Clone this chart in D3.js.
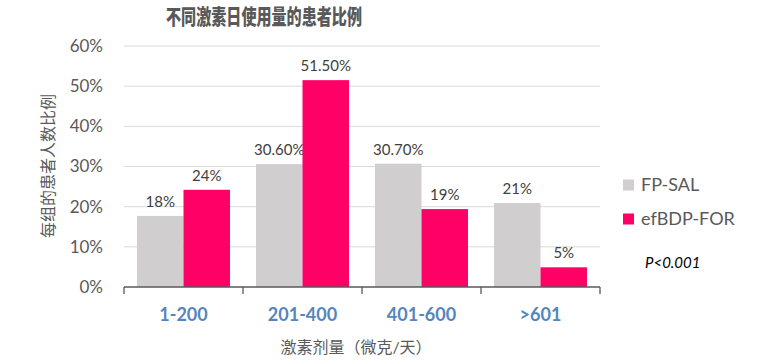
<!DOCTYPE html>
<html>
<head>
<meta charset="utf-8">
<script src="https://cdn.jsdelivr.net/npm/d3@7"></script>
<style>
  body { margin: 0; background: #fff; }
  text { font-family: Lato, "Noto Sans CJK SC", sans-serif; }
</style>
</head>
<body>
<svg id="chart"></svg>
<script>
const width = 761;
const height = 362;

// datos
const categories = ["1-200", "201-400", "401-600", ">601"];
const seriesNames = ["FP-SAL", "efBDP-FOR"];
const fpSal = [17.7, 30.6, 30.7, 20.9];
const efBdpFor = [24.2, 51.5, 19.4, 4.9];
const fpSalLabels = ["18%", "30.60%", "30.70%", "21%"];
const efBdpForLabels = ["24%", "51.50%", "19%", "5%"];
const yTicks = [0, 10, 20, 30, 40, 50, 60];
const colors = ["#d0cece", "#ff0066"];

const svg = d3.select("#chart")
    .attr("width", width)
    .attr("height", height);

const plotLeft = 124, plotRight = 600, plotTop = 46, plotBottom = 287;

const x = d3.scaleBand().domain(categories).range([plotLeft, plotRight]).paddingInner(0).paddingOuter(0);
const xs = d3.scaleBand().domain(seriesNames).range([0, x.bandwidth()]).paddingInner(0).paddingOuter(0.28);
const y = d3.scaleLinear().domain([0, 60]).range([plotBottom, plotTop]);

// rejilla
svg.append("g").selectAll("line")
    .data(yTicks.filter(d => d > 0))
    .enter().append("line")
    .attr("x1", plotLeft).attr("x2", plotRight)
    .attr("y1", d => y(d)).attr("y2", d => y(d))
    .attr("stroke", "#d9d9d9").attr("stroke-width", 1);

// etiquetas eje y
svg.append("g").selectAll("text")
    .data(yTicks)
    .enter().append("text")
    .attr("x", 103)
    .attr("y", d => y(d))
    .attr("dy", "0.35em")
    .attr("text-anchor", "end")
    .attr("font-size", 17)
    .attr("fill", "#595959")
    .text(d => d + "%");

const series = [
    { name: seriesNames[0], values: fpSal, labels: fpSalLabels, color: colors[0] },
    { name: seriesNames[1], values: efBdpFor, labels: efBdpForLabels, color: colors[1] }
];

series.forEach(s => {
    const g = svg.append("g");
    g.selectAll("rect")
        .data(categories)
        .enter().append("rect")
        .attr("x", (d, i) => x(d) + xs(s.name))
        .attr("y", (d, i) => y(s.values[i]))
        .attr("width", xs.bandwidth())
        .attr("height", (d, i) => y(0) - y(s.values[i]))
        .attr("fill", s.color);
    g.selectAll("text")
        .data(categories)
        .enter().append("text")
        .attr("x", (d, i) => x(d) + xs(s.name) + xs.bandwidth() / 2)
        .attr("y", (d, i) => y(s.values[i]) - 9)
        .attr("text-anchor", "middle")
        .attr("font-size", 15)
        .attr("fill", "#404040")
        .text((d, i) => s.labels[i]);
});

// eje x
const xAxis = svg.append("g");
xAxis.append("line")
    .attr("x1", plotLeft).attr("x2", plotRight)
    .attr("y1", plotBottom).attr("y2", plotBottom)
    .attr("stroke", "#595959").attr("stroke-width", 1.3);
xAxis.selectAll(".tick")
    .data(categories.map(c => x(c)).concat([plotRight]))
    .enter().append("line")
    .attr("x1", d => d).attr("x2", d => d)
    .attr("y1", plotBottom).attr("y2", plotBottom + 7)
    .attr("stroke", "#595959").attr("stroke-width", 1.3);
xAxis.selectAll("text")
    .data(categories)
    .enter().append("text")
    .attr("x", d => x(d) + x.bandwidth() / 2)
    .attr("y", 315)
    .attr("dy", "0.35em")
    .attr("text-anchor", "middle")
    .attr("font-size", 18)
    .attr("font-weight", "bold")
    .attr("fill", "#5585bd")
    .text(d => d);

// titulos
svg.append("text")
    .attr("x", 264).attr("y", 17)
    .attr("dy", "0.35em")
    .attr("text-anchor", "middle")
    .attr("font-family", "'Noto Sans CJK SC', sans-serif")
    .attr("font-size", 21)
    .attr("font-weight", 900)
    .attr("fill", "#595959")
    .attr("textLength", 196)
    .attr("lengthAdjust", "spacingAndGlyphs")
    .text("不同激素日使用量的患者比例");

svg.append("text")
    .attr("transform", "translate(48,166) rotate(-90)")
    .attr("dy", "0.35em")
    .attr("text-anchor", "middle")
    .attr("font-family", "'Noto Sans CJK SC', sans-serif")
    .attr("font-size", 16)
    .attr("fill", "#595959")
    .text("每组的患者人数比例");

svg.append("text")
    .attr("x", 356).attr("y", 347)
    .attr("dy", "0.35em")
    .attr("text-anchor", "middle")
    .attr("font-family", "'Noto Sans CJK SC', sans-serif")
    .attr("font-size", 16)
    .attr("fill", "#595959")
    .text("激素剂量（微克/天）");

// leyenda
const legend = svg.append("g").selectAll("g")
    .data(series)
    .enter().append("g")
    .attr("transform", (d, i) => `translate(623,${185 + i * 34})`);
legend.append("rect")
    .attr("x", 0).attr("y", -5.5)
    .attr("width", 11).attr("height", 11)
    .attr("fill", d => d.color);
legend.append("text")
    .attr("x", 18).attr("y", 0)
    .attr("dy", "0.35em")
    .attr("font-size", 18)
    .attr("fill", "#595959")
    .text(d => d.name);

svg.append("text")
    .attr("x", 645).attr("y", 263)
    .attr("dy", "0.35em")
    .attr("font-family", "'Open Sans', sans-serif")
    .attr("font-size", 15)
    .attr("font-style", "italic")
    .attr("fill", "#000")
    .text("P<0.001");
</script>
</body>
</html>
